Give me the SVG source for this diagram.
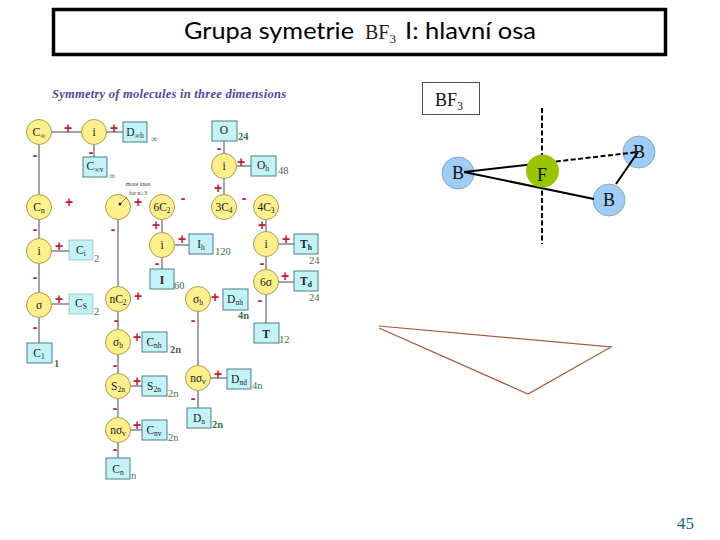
<svg xmlns="http://www.w3.org/2000/svg" width="720" height="540" viewBox="0 0 720 540">
<style>
text{font-family:"Liberation Serif",serif}
.c{fill:#fdf08c;stroke:#a89c50;stroke-width:1}
.b{fill:#c4f3f7;stroke:#4f7f88;stroke-width:1}
.l{fill:#222;font-size:11.5px;text-anchor:middle}
.n{fill:#3f6f4a;font-size:10.5px}
.p text{fill:#c0203a;font-family:"Liberation Sans",sans-serif;font-weight:bold;font-size:14px;text-anchor:middle}
.s{font-size:7.5px}
.k line{stroke:#666;stroke-width:1.2}
.a{fill:#9fcdf5;stroke:#7fa9d0;stroke-width:1}
.t{font-size:18px;text-anchor:middle;fill:#111}
.m line{stroke:#000;stroke-width:2}
.m .d{stroke-dasharray:5 2.5}
.r{font-family:"Lato",sans-serif;font-size:24px;fill:#000}
</style>
<g id="title">
<rect x="53.500" y="9.500" width="612" height="45" fill="#fff" stroke="#000" stroke-width="3.500"/>
<text class="r" x="184" y="39" textLength="170" lengthAdjust="spacingAndGlyphs">Grupa symetrie</text>
<text x="365" y="39" font-size="20" fill="#222">BF<tspan font-size="13" dy="4">3</tspan></text>
<text class="r" x="405" y="39" textLength="131" lengthAdjust="spacingAndGlyphs">I: hlavní osa</text>
</g>
<text x="52" y="98" font-size="12.500" font-style="italic" font-weight="bold" fill="#4a4a9c" textLength="234">Symmetry of molecules in three dimensions</text>
<g id="connectors" class="k">
<line x1="52" y1="132" x2="81" y2="132"/><line x1="107" y1="132" x2="123" y2="132"/><line x1="94" y1="145" x2="94" y2="157"/><line x1="39" y1="145" x2="39" y2="194"/><line x1="39" y1="220" x2="39" y2="238"/><line x1="52" y1="251" x2="69" y2="251"/><line x1="39" y1="264" x2="39" y2="292"/><line x1="52" y1="304" x2="69" y2="304"/><line x1="39" y1="318" x2="39" y2="343"/>
<line x1="118" y1="220" x2="118" y2="286"/><line x1="118" y1="312" x2="118" y2="329"/><line x1="118" y1="355" x2="118" y2="373"/><line x1="118" y1="399" x2="118" y2="417"/><line x1="118" y1="443" x2="118" y2="458"/><line x1="131" y1="386" x2="142" y2="386"/><line x1="131" y1="430" x2="142" y2="430"/>
<line x1="224" y1="141" x2="224" y2="153"/><line x1="237" y1="166" x2="251" y2="166"/><line x1="224" y1="179" x2="224" y2="194"/>
<line x1="162" y1="220" x2="162" y2="232"/><line x1="175" y1="245" x2="189" y2="245"/><line x1="162" y1="258" x2="162" y2="269"/>
<line x1="266" y1="220" x2="266" y2="231"/><line x1="279" y1="244" x2="294" y2="244"/><line x1="266" y1="257" x2="266" y2="269"/><line x1="279" y1="282" x2="294" y2="282"/><line x1="266" y1="295" x2="266" y2="323"/>
<line x1="198" y1="312" x2="198" y2="365"/><line x1="211" y1="378" x2="227" y2="378"/><line x1="198" y1="391" x2="198" y2="408"/>
</g>
<g id="n1"><circle class="c" cx="39" cy="132" r="12.500"/><text class="l" x="39" y="136">C<tspan class="s" dy="2">∞</tspan></text></g>
<g id="n2"><circle class="c" cx="94" cy="132" r="12.500"/><text class="l" x="94" y="136">i</text></g>
<g id="n3"><rect class="b" x="123" y="122" width="24" height="20"/><text class="l" x="135" y="136">D<tspan class="s" dy="2">∞h</tspan></text></g>
<g id="n4"><rect class="b" x="83" y="157" width="24" height="20"/><text class="l" x="95" y="170">C<tspan class="s" dy="2">∞v</tspan></text></g>
<g id="n5"><circle class="c" cx="39" cy="207" r="12.500"/><text class="l" x="39" y="211">C<tspan class="s" dy="2">n</tspan></text></g>
<g id="n6"><circle class="c" cx="39" cy="251" r="12.500"/><text class="l" x="39" y="255">i</text></g>
<g id="n7"><rect class="b" x="69" y="240" width="24" height="20" stroke-opacity=".4"/><text class="l" x="81" y="254">C<tspan class="s" dy="2">i</tspan></text></g>
<g id="n8"><circle class="c" cx="39" cy="305" r="12.500"/><text class="l" x="39" y="309">σ</text></g>
<g id="n9"><rect class="b" x="69" y="294" width="24" height="20" stroke-opacity=".4"/><text class="l" x="81" y="307">C<tspan class="s" dy="2">S</tspan></text></g>
<g id="n10"><rect class="b" x="27" y="343" width="25" height="20"/><text class="l" x="39" y="357">C<tspan class="s" dy="2">1</tspan></text></g>
<g id="n11"><circle class="c" cx="118" cy="207" r="12.500"/><circle cx="120" cy="204" r="1.500" fill="#222"/><line x1="120" y1="204" x2="127" y2="197" stroke="#444" stroke-width=".7"/></g>
<g id="n12"><circle class="c" cx="162" cy="207" r="12.500"/><text class="l" x="162" y="211">6C<tspan class="s" dy="2">2</tspan></text></g>
<g id="n13"><rect class="b" x="212" y="121" width="25" height="20"/><text class="l" x="224" y="134">O</text></g>
<g id="n14"><circle class="c" cx="224" cy="166" r="12.500"/><text class="l" x="224" y="170">i</text></g>
<g id="n15"><rect class="b" x="251" y="156" width="25" height="20"/><text class="l" x="263" y="169">O<tspan class="s" dy="2">h</tspan></text></g>
<g id="n16"><circle class="c" cx="224" cy="207" r="12.500"/><text class="l" x="224" y="211">3C<tspan class="s" dy="2">4</tspan></text></g>
<g id="n17"><circle class="c" cx="266" cy="207" r="12.500"/><text class="l" x="266" y="211">4C<tspan class="s" dy="2">3</tspan></text></g>
<g id="n18"><circle class="c" cx="162" cy="245" r="12.500"/><text class="l" x="162" y="249">i</text></g>
<g id="n19"><rect class="b" x="189" y="234" width="24" height="20"/><text class="l" x="201" y="248">I<tspan class="s" dy="2">h</tspan></text></g>
<g id="n20"><rect class="b" x="150" y="269" width="24" height="20"/><text class="l" x="162" y="284" font-weight="bold">I</text></g>
<g id="n21"><circle class="c" cx="266" cy="244" r="12.500"/><text class="l" x="266" y="248">i</text></g>
<g id="n22"><rect class="b" x="294" y="234" width="24" height="20"/><text class="l" x="306" y="248" font-weight="bold">T<tspan class="s" dy="2">h</tspan></text></g>
<g id="n23"><circle class="c" cx="266" cy="282" r="12.500"/><text class="l" x="266" y="286">6σ</text></g>
<g id="n24"><rect class="b" x="294" y="271" width="24" height="20"/><text class="l" x="306" y="285" font-weight="bold">T<tspan class="s" dy="2">d</tspan></text></g>
<g id="n25"><circle class="c" cx="198" cy="299" r="12.500"/><text class="l" x="198" y="303">σ<tspan class="s" dy="2">h</tspan></text></g>
<g id="n26"><rect class="b" x="223" y="289" width="25" height="21"/><text class="l" x="235" y="303">D<tspan class="s" dy="2">nh</tspan></text></g>
<g id="n27"><rect class="b" x="254" y="323" width="25" height="20"/><text class="l" x="266" y="338" font-weight="bold">T</text></g>
<g id="n28"><circle class="c" cx="198" cy="378" r="12.500"/><text class="l" x="198" y="382">nσ<tspan class="s" dy="2">v</tspan></text></g>
<g id="n29"><rect class="b" x="227" y="369" width="24" height="20"/><text class="l" x="239" y="383">D<tspan class="s" dy="2">nd</tspan></text></g>
<g id="n30"><rect class="b" x="187" y="408" width="24" height="20"/><text class="l" x="199" y="422">D<tspan class="s" dy="2">n</tspan></text></g>
<g id="n31"><circle class="c" cx="118" cy="299" r="12.500"/><text class="l" x="118" y="303">nC<tspan class="s" dy="2">2</tspan></text></g>
<g id="n32"><circle class="c" cx="118" cy="342" r="12.500"/><text class="l" x="118" y="346">σ<tspan class="s" dy="2">h</tspan></text></g>
<g id="n33"><rect class="b" x="142" y="332" width="25" height="20"/><text class="l" x="154" y="346">C<tspan class="s" dy="2">nh</tspan></text></g>
<g id="n34"><circle class="c" cx="118" cy="386" r="12.500"/><text class="l" x="118" y="390">S<tspan class="s" dy="2">2n</tspan></text></g>
<g id="n35"><rect class="b" x="142" y="376" width="25" height="20"/><text class="l" x="154" y="390">S<tspan class="s" dy="2">2n</tspan></text></g>
<g id="n36"><circle class="c" cx="118" cy="430" r="12.500"/><text class="l" x="118" y="434">nσ<tspan class="s" dy="2">v</tspan></text></g>
<g id="n37"><rect class="b" x="142" y="420" width="25" height="20"/><text class="l" x="154" y="434">C<tspan class="s" dy="2">nv</tspan></text></g>
<g id="n38"><rect class="b" x="106" y="458" width="24" height="21"/><text class="l" x="118" y="473">C<tspan class="s" dy="2">n</tspan></text></g>
<g id="signs" class="p">
<text x="68" y="133">+</text><text x="114" y="133">+</text><text x="35" y="160">-</text><text x="91" y="157">-</text><text x="69" y="207">+</text><text x="138" y="207">+</text><text x="35" y="234">-</text><text x="59" y="251">+</text><text x="113" y="234">-</text><text x="156" y="230">+</text><text x="157" y="268">-</text><text x="35" y="282">-</text>
<text x="219" y="153">-</text><text x="241" y="167">+</text><text x="218" y="193">+</text><text x="183" y="203">-</text><text x="244" y="203">-</text><text x="262" y="230">+</text><text x="182" y="244">+</text><text x="286" y="244">+</text><text x="262" y="268">-</text><text x="285" y="281">+</text>
<text x="59" y="304">+</text><text x="35" y="332">-</text><text x="138" y="301">+</text><text x="116" y="325">-</text><text x="137" y="342">+</text><text x="115" y="370">-</text><text x="137" y="386">+</text><text x="115" y="413">-</text><text x="137" y="430">+</text><text x="115" y="454">-</text>
<text x="215" y="302">+</text><text x="193" y="325">-</text><text x="260" y="305">-</text><text x="218" y="379">+</text><text x="193" y="403">-</text>
</g>
<g id="orders" class="n">
<text x="151" y="142" font-size="9">∞</text><text x="109" y="179" font-size="9">∞</text>
<text x="138" y="186" font-size="6" text-anchor="middle" fill="#333">more axes</text><text x="138" y="195" font-size="6" text-anchor="middle" fill="#333">for n≥3</text>
<text x="238" y="140" font-weight="bold">24</text><text x="278" y="174">48</text><text x="94" y="262">2</text><text x="94" y="315">2</text><text x="54" y="367" font-weight="bold">1</text><text x="215" y="255">120</text><text x="174" y="289">60</text><text x="309" y="264">24</text><text x="309" y="301">24</text><text x="279" y="343">12</text><text x="238" y="319" font-weight="bold">4n</text><text x="170" y="353" font-weight="bold">2n</text><text x="168" y="397">2n</text><text x="168" y="441">2n</text><text x="252" y="389">4n</text><text x="212" y="428" font-weight="bold">2n</text><text x="131" y="479">n</text>
</g>
<g id="bf3-label"><rect x="422.500" y="82.500" width="57" height="32" fill="#fff" stroke="#4a4a80"/><text x="435" y="106" font-size="18" fill="#111">BF<tspan font-size="12" dy="4">3</tspan></text></g>
<g id="axis" class="m"><line class="d" x1="542" y1="108" x2="542" y2="244"/></g>
<g id="bf3-atoms">
<g id="atom-b1"><circle class="a" cx="458" cy="173" r="16"/><text class="t" x="458" y="179">B</text></g>
<g id="atom-b2"><circle class="a" cx="639" cy="152" r="16"/><text class="t" x="639" y="158">B</text></g>
<g id="atom-b3"><circle class="a" cx="609" cy="200" r="16"/><text class="t" x="609" y="206">B</text></g>
</g>
<g id="bf3-bonds" class="m">
<line x1="464" y1="172" x2="526" y2="165"/><line class="d" x1="526" y1="165" x2="638" y2="152"/><line x1="464" y1="172" x2="594" y2="199"/><line x1="616" y1="184" x2="638" y2="152"/>
</g>
<g id="atom-f"><circle cx="542.500" cy="171" r="16.500" fill="#99c400"/><text class="t" x="542" y="181">F</text></g>
<path id="triangle" d="M379 326L611 347L528 394L379 328" fill="none" stroke="#a5583a" stroke-width="1.200"/>
<text x="677" y="529" font-size="17" fill="#0a6e70">45</text>
</svg>
